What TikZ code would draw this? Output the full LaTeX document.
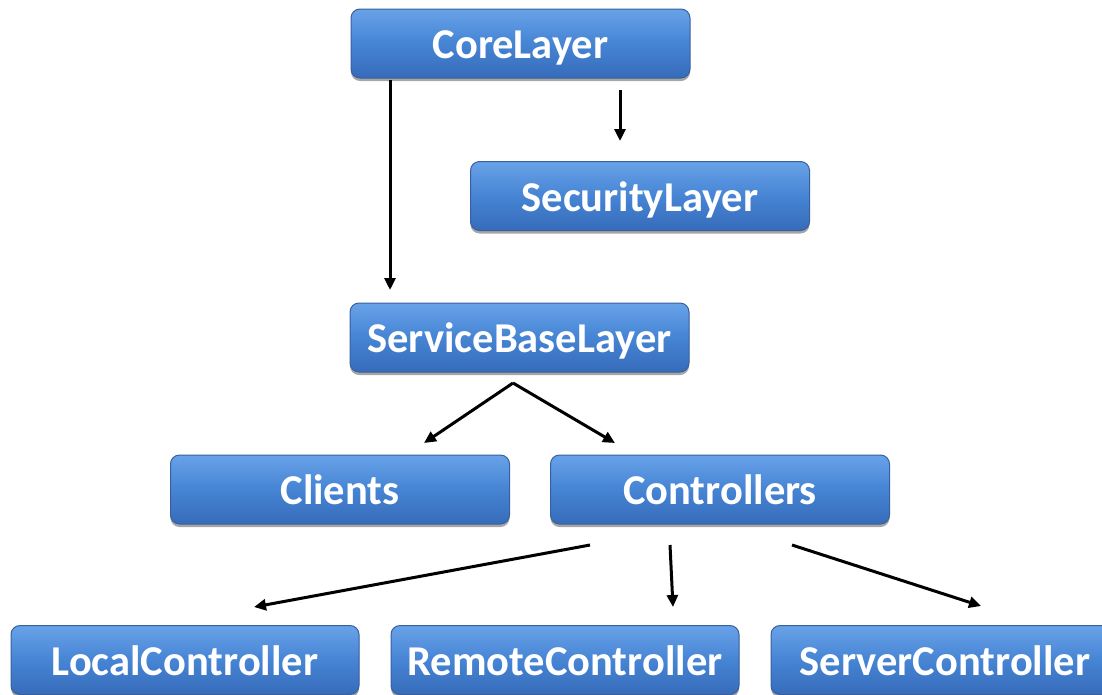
\documentclass[tikz,border=0pt]{standalone}
\usepackage{fontspec}
\setmainfont{Carlito}
\usetikzlibrary{arrows.meta,shadows,calc}
\definecolor{boxtop}{RGB}{104,162,232}
\definecolor{boxmid}{RGB}{70,132,212}
\definecolor{boxbot}{RGB}{54,108,186}
\definecolor{boxedge}{RGB}{56,96,158}
\tikzset{
  layer/.style={rectangle, rounded corners=9pt, minimum width=339pt, minimum height=69pt,
    top color=boxtop, bottom color=boxbot, middle color=boxmid, draw=boxedge, line width=1pt,
    text=white, font=\fontsize{42.5}{48}\selectfont\bfseries, inner sep=0pt,
    text height=30pt, text depth=0pt,
    drop shadow={shadow xshift=0pt, shadow yshift=-3pt, opacity=0.35, fill=black}},
  wide/.style={layer, minimum width=348pt},
  link/.style={line width=3pt, -{Triangle[width=11pt,length=12pt]}, black}
}
\begin{document}
\begin{tikzpicture}[x=1pt,y=-1pt]
  \useasboundingbox (0,0) rectangle (1102,694);
  \clip (0,0) rectangle (1102,694);

  % layer boxes
  \node[layer] (core)     at (520.5,43.5)  {CoreLayer};
  \node[layer] (security) at (640,196)     {SecurityLayer};
  \node[layer] (service)  at (519.5,337.5) {ServiceBaseLayer};
  \node[layer] (clients)  at (340,489.5)   {Clients};
  \node[layer] (ctrl)     at (720,489.5)   {Controllers};
  \node[wide]  (local)    at (185,660)     {LocalController};
  \node[wide]  (remote)   at (565,660)     {RemoteController};
  \node[wide]  (server)   at (945,660)     {ServerController};

  % arrow end points
  \coordinate (coreA)   at (390,80);
  \coordinate (serviceT) at (390,290);
  \coordinate (coreB)   at (620,90);
  \coordinate (securityT) at (620,141);
  \coordinate (serviceB) at (513,383);
  \coordinate (clientsT) at (424,443);
  \coordinate (ctrlT)    at (615,443);
  \coordinate (ctrlA)    at (590,545);
  \coordinate (ctrlB)    at (670,545);
  \coordinate (ctrlC)    at (792,545);
  \coordinate (localT)   at (254,607);
  \coordinate (remoteT)  at (673,607);
  \coordinate (serverT)  at (981,606);

  % connectors
  \draw[link] (coreA) -- (serviceT);
  \draw[link] (coreB) -- (securityT);
  \draw[link] (serviceB) -- (clientsT);
  \draw[link] (serviceB) -- (ctrlT);
  \draw[link] (ctrlA) -- (localT);
  \draw[link] (ctrlB) -- (remoteT);
  \draw[link] (ctrlC) -- (serverT);
\end{tikzpicture}
\end{document}
